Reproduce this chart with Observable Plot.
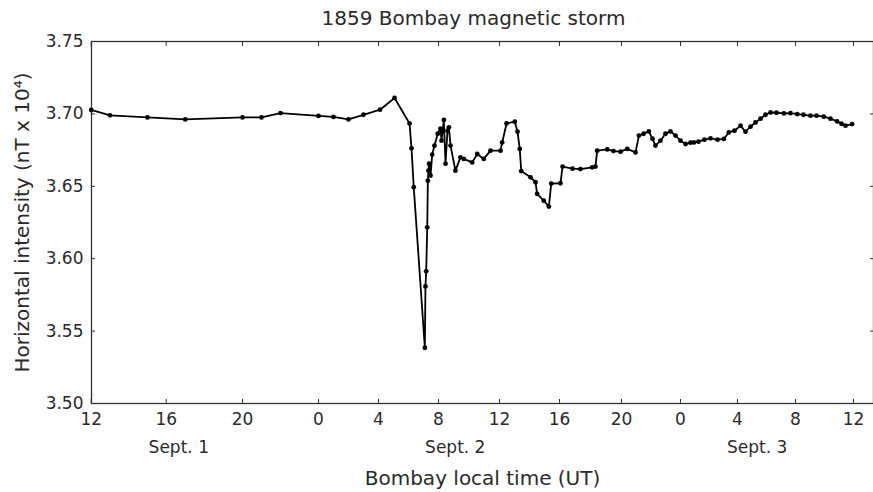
<!DOCTYPE html>
<html>
<head>
<meta charset="utf-8">
<script src="https://cdn.jsdelivr.net/npm/d3@7"></script>
<script src="https://cdn.jsdelivr.net/npm/@observablehq/plot@0.6"></script>
<style>
  html, body { margin: 0; padding: 0; background: #fff; }
</style>
</head>
<body>
<div id="chart"></div>
<script>
// Hours since Sept. 1, 12:00 (Bombay local time)
const hours = [
  0, 1, 3, 5, 8, 9, 10, 12, 13, 14, 15, 16.1, 17.07, 18.07, 18.2, 18.35,
  19.09, 19.13, 19.18, 19.25, 19.29, 19.33, 19.37, 19.47, 19.58, 19.73, 19.95,
  20.13, 20.2, 20.35, 20.46, 20.59, 20.68, 20.79, 21.11, 21.44, 21.66, 22.21,
  22.54, 22.97, 23.41, 24.07, 24.18, 24.47, 25.02, 25.2, 25.35, 25.45, 26.07,
  26.4, 26.51, 26.95, 27.29, 27.45, 28.06, 28.2, 28.84, 29.35, 30.11, 30.32,
  30.43, 31.08, 31.48, 31.94, 32.39, 32.95, 33.18, 33.5, 33.85, 34.1, 34.3,
  34.64, 34.98, 35.32, 35.66, 36.0, 36.35, 36.7, 36.94, 37.26, 37.68, 38.11,
  38.6, 39.04, 39.39, 39.79, 40.21, 40.55, 40.9, 41.24, 41.59, 41.93, 42.28,
  42.69, 43.2, 43.66, 44.12, 44.55, 45.03, 45.45, 45.95, 46.41, 46.87, 47.17,
  47.45, 47.91
];
// Horizontal intensity (nT x 10^4)
const intensity = [
  3.7027, 3.6990, 3.6976, 3.6962, 3.6976, 3.6976, 3.7006, 3.6986, 3.6979, 3.6962, 3.6994, 3.7029, 3.7110, 3.6934, 3.6762, 3.6494,
  3.5385, 3.5808, 3.5913, 3.6217, 3.6539, 3.6608, 3.6656, 3.6574, 3.6719, 3.6780, 3.6863,
  3.6898, 3.6815, 3.6958, 3.6656, 3.6884, 3.6907, 3.6781, 3.6608, 3.6700, 3.6689, 3.6665,
  3.6723, 3.6689, 3.6746, 3.6746, 3.6803, 3.6934, 3.6946, 3.6877, 3.6758, 3.6605, 3.6562,
  3.6528, 3.6448, 3.6401, 3.6360, 3.6519, 3.6521, 3.6636, 3.6622, 3.6619, 3.6631, 3.6636,
  3.6746, 3.6755, 3.6743, 3.6739, 3.6758, 3.6734, 3.6850, 3.6863, 3.6879, 3.6829, 3.6781,
  3.6815, 3.6863, 3.6879, 3.6850, 3.6815, 3.6792, 3.6801, 3.6803, 3.6808, 3.6822, 3.6831,
  3.6822, 3.6827, 3.6872, 3.6884, 3.6919, 3.6877, 3.6912, 3.6941, 3.6967, 3.6994, 3.7010,
  3.7008, 3.7003, 3.7005, 3.6999, 3.6994, 3.6988, 3.6988, 3.6981, 3.6967, 3.6948, 3.6932,
  3.6919, 3.6930
];

const tickHours = [0, 4, 8, 12, 16, 20, 24, 28, 32, 36, 40, 44, 48];
const tickLabels = ["12", "16", "20", "0", "4", "8", "12", "16", "20", "0", "4", "8", "12"];
const yTicks = [3.50, 3.55, 3.60, 3.65, 3.70, 3.75];

const dayLabels = ["Sept. 1", "Sept. 2", "Sept. 3"];
const dayHours = [4.66, 21.1, 41.36];

const title = "1859 Bombay magnetic storm";
const xLabel = "Bombay local time (UT)";
const yLabel = "Horizontal intensity (nT x 10\u2074)";

const data = hours.map((h, i) => ({h, v: intensity[i]}));
const days = dayLabels.map((label, i) => ({label, h: dayHours[i]}));
const tickLabelOf = new Map(tickHours.map((h, i) => [h, tickLabels[i]]));

// The original figure's time axis is not uniform: piecewise scale
const xDomain = [0, 4, 8, 12, 16, 20, 24, 28, 32, 36, 40, 44, 48, 49.4];
const xRange = [90.7, 165.7, 242, 318, 378, 438, 499, 559, 621, 680, 737, 795, 853, 873];

const ink = "#2a2a2a";

const chart = Plot.plot({
  width: 873,
  height: 492,
  marginLeft: 91,
  marginRight: 0,
  marginTop: 41,
  marginBottom: 89,
  style: {fontFamily: "'DejaVu Sans', sans-serif", fontSize: "17px", color: ink, background: "#fff"},
  x: {type: "linear", domain: xDomain, range: xRange},
  y: {domain: [3.50, 3.75]},
  marks: [
    Plot.frame({stroke: "#333", strokeWidth: 1.3}),
    // inward ticks on all four sides
    Plot.axisX({anchor: "bottom", ticks: tickHours, tickSize: 4, dy: -4, fill: "none", label: null, stroke: "#333"}),
    Plot.axisX({anchor: "top", ticks: tickHours, tickSize: 4, dy: 4, fill: "none", label: null, stroke: "#333"}),
    Plot.axisY({anchor: "left", ticks: yTicks, tickSize: 4, dx: 4, fill: "none", label: null, stroke: "#333"}),
    Plot.axisY({anchor: "right", ticks: yTicks, tickSize: 4, dx: -4, fill: "none", label: null, stroke: "#333"}),
    // tick labels
    Plot.axisX({anchor: "bottom", ticks: tickHours, tickSize: 0, tickPadding: 9, label: null,
                tickFormat: d => tickLabelOf.get(d)}),
    Plot.axisY({anchor: "left", ticks: yTicks, tickSize: 0, tickPadding: 8, label: null,
                tickFormat: d3.format(".2f")}),
    // data
    Plot.line(data, {x: "h", y: "v", stroke: "#000", strokeWidth: 1.8}),
    Plot.dot(data, {x: "h", y: "v", r: 2.4, fill: "#000"}),
    // day labels
    Plot.text(days, {x: "h", text: "label", frameAnchor: "bottom", dy: 44, lineAnchor: "middle", fill: ink}),
    // axis titles and title
    Plot.text([xLabel], {frameAnchor: "bottom", dy: 75, lineAnchor: "middle", fontSize: 20, fill: ink}),
    Plot.text([yLabel], {frameAnchor: "left", dx: -69, rotate: -90, textAnchor: "middle", lineAnchor: "middle", fontSize: 20, fill: ink}),
    Plot.text([title], {frameAnchor: "top", dy: -23, dx: -9, lineAnchor: "middle", fontSize: 20, fill: ink})
  ]
});

document.getElementById("chart").append(chart);
</script>
</body>
</html>
